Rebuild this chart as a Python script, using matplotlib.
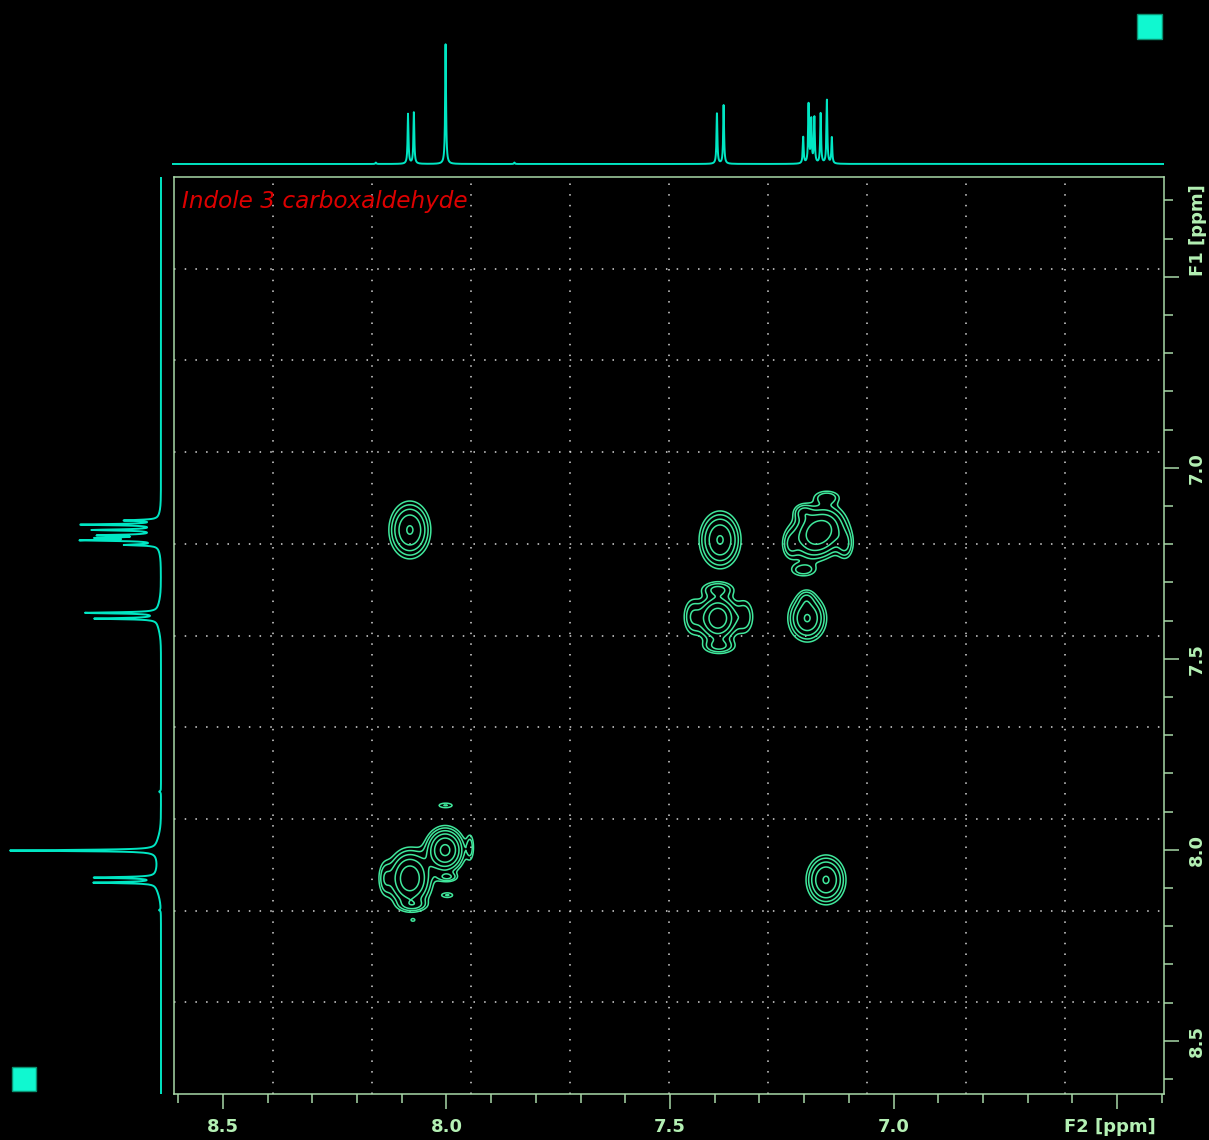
import numpy as np
import matplotlib
matplotlib.use("Agg")
import matplotlib.pyplot as plt
from matplotlib.patches import Rectangle
from matplotlib.ticker import FixedLocator

# ---------------- spectral window (ppm) ----------------
f2_left, f2_right = 8.6096, 6.3949      # direct dimension, high ppm on the left
f1_top, f1_bottom = 6.239, 8.6395       # indirect dimension, low ppm at the top

# ---------------- 1D proton spectrum (projection) ----------------
h_ppm = [8.158, 8.086, 8.073, 8.002, 7.848, 7.395, 7.380,
         7.202, 7.190, 7.184, 7.177, 7.163, 7.149, 7.138]
h_int = [0.012, 0.42, 0.43, 1.00, 0.012, 0.42, 0.49,
         0.22, 0.49, 0.36, 0.38, 0.42, 0.53, 0.22]

# broad feet seen under each multiplet in the F1 projection
foot_ppm = [8.08, 8.00, 7.39, 7.17]
foot_int = [0.035, 0.03, 0.025, 0.03]

# ---------------- 2D COSY peaks ----------------
# F2 ppm, F1 ppm, amplitude, F2 width, F1 width (ppm)
pk_f2 = [8.082, 7.151, 7.388,
         7.393, 7.393, 7.390, 7.450, 7.332,
         7.193, 7.195,
         7.183, 7.151, 7.202, 7.149, 7.202, 7.108, 7.231,
         8.082, 8.075, 8.138,
         8.003, 8.002, 7.947, 7.998, 7.998, 8.075]
pk_f1 = [7.163, 8.079, 7.189,
         7.394, 7.318, 7.468, 7.390, 7.390,
         7.394, 7.342,
         7.181, 7.158, 7.116, 7.077, 7.268, 7.202, 7.202,
         8.075, 8.145, 8.075,
         8.001, 7.884, 7.993, 8.072, 8.119, 8.184]
pk_amp = [6.0, 6.0, 6.0,
          8.0, 2.4, 2.4, 2.2, 2.0,
          6.0, 1.5,
          5.0, 5.0, 2.2, 2.0, 2.0, 2.3, 2.0,
          8.0, 2.0, 1.8,
          10.0, 1.6, 1.8, 2.2, 1.6, 1.2]
pk_sx = [0.0248, 0.0236, 0.0248,
         0.024, 0.024, 0.024, 0.014, 0.014,
         0.023, 0.012,
         0.028, 0.028, 0.014, 0.020, 0.020, 0.012, 0.012,
         0.026, 0.020, 0.010,
         0.022, 0.015, 0.006, 0.015, 0.012, 0.005]
pk_sy = [0.040, 0.0345, 0.040,
         0.032, 0.013, 0.013, 0.032, 0.032,
         0.033, 0.015,
         0.035, 0.035, 0.014, 0.012, 0.012, 0.025, 0.025,
         0.040, 0.010, 0.030,
         0.030, 0.006, 0.025, 0.008, 0.006, 0.004]
levels = [1.0, 1.55, 2.4, 3.72, 5.77, 8.94]

# ---------------- colours ----------------
bg = "black"
proj_col = "#00e6c3"
cont_col = "#40e89c"
frame_col = "#a8d8a8"
text_col = "#b4f0b4"
grid_col = "#d8d8d8"

W, H = 1209, 1140
fig = plt.figure(figsize=(W / 100, H / 100), dpi=100, facecolor=bg)


def px_rect(x0, y0, x1, y1):
    return [x0 / W, 1 - y1 / H, (x1 - x0) / W, (y1 - y0) / H]


# ---------------- main 2D panel ----------------
ax = fig.add_axes(px_rect(174, 177, 1164, 1094), facecolor=bg)
ax.set_xlim(f2_left, f2_right)
ax.set_ylim(f1_bottom, f1_top)

for k in range(1, 10):
    ax.plot([k / 10, k / 10], [0, 1], transform=ax.transAxes,
            color=grid_col, lw=1.1, ls=(0, (1, 6)), zorder=1)
    ax.plot([0, 1], [k / 10, k / 10], transform=ax.transAxes,
            color=grid_col, lw=1.1, ls=(0, (1, 6)), zorder=1)

x2 = np.linspace(f2_right, f2_left, 900)
y1 = np.linspace(f1_top, f1_bottom, 900)
X, Y = np.meshgrid(x2, y1)
Z = np.zeros_like(X)
for cx, cy, a, sx, sy in zip(pk_f2, pk_f1, pk_amp, pk_sx, pk_sy):
    Z += a * np.exp(-0.5 * (((X - cx) / sx) ** 2 + ((Y - cy) / sy) ** 2))
ax.contour(X, Y, Z, levels=levels, colors=cont_col, linewidths=1.1, zorder=3)

for s in ax.spines.values():
    s.set_color(frame_col)
    s.set_linewidth(1.1)

ax.xaxis.set_ticks_position("bottom")
ax.yaxis.tick_right()
ax.xaxis.set_major_locator(FixedLocator([8.5, 8.0, 7.5, 7.0, 6.5]))
ax.set_xticklabels(["8.5", "8.0", "7.5", "7.0", ""])
ax.xaxis.set_minor_locator(FixedLocator(np.round(np.arange(6.4, 8.65, 0.1), 1)))
ax.yaxis.set_major_locator(FixedLocator([6.5, 7.0, 7.5, 8.0, 8.5]))
ax.set_yticklabels(["", "7.0", "7.5", "8.0", "8.5"])
ax.yaxis.set_minor_locator(FixedLocator(np.round(np.arange(6.3, 8.65, 0.1), 1)))

lab_font = dict(family="DejaVu Sans", weight="bold", size=13)
ax.tick_params(which="both", direction="out", color=frame_col, width=1.1,
               labelcolor=text_col)
ax.tick_params(which="major", length=11, pad=6)
ax.tick_params(which="minor", length=6.5)
for t in ax.get_xticklabels():
    t.set_fontproperties(lab_font)
for t in ax.get_yticklabels():
    t.set_fontproperties(lab_font)
    t.set_rotation(90)
    t.set_va("center")

fig.text(1110 / W, 1 - 1127 / H, "F2 [ppm]", ha="center", va="center",
         color=text_col, **lab_font)
fig.text(1198 / W, 1 - 230 / H, "F1 [ppm]", ha="center", va="center",
         rotation=90, color=text_col, **lab_font)

ax.text((182 - 174) / 990, (1094 - 208) / 917, "Indole 3 carboxaldehyde",
        transform=ax.transAxes, ha="left", va="baseline", color="#dd0000",
        family="DejaVu Sans", style="italic", size=16.7, zorder=5)

# ---------------- top projection (F2) ----------------
axt = fig.add_axes(px_rect(172, 30, 1164, 170), facecolor="none")
axt.set_xlim(f2_left + 2 / 447, f2_right)
axt.set_ylim(-0.05, 1.1167)
axt.axis("off")
xs = np.linspace(f2_right, f2_left + 2 / 447, 8000)
top = np.zeros_like(xs)
hw = 0.0012
for p, i in zip(h_ppm, h_int):
    top += i / (1 + ((xs - p) / hw) ** 2)
axt.plot(xs, top, color=proj_col, lw=1.4)

# ---------------- left projection (F1) ----------------
axl = fig.add_axes(px_rect(0, 177, 165, 1094), facecolor="none")
axl.set_ylim(f1_bottom, f1_top)
axl.set_xlim(1.0662, -0.0265)
axl.axis("off")
ys = np.arange(f1_top, f1_bottom, 0.0008)
side = np.zeros_like(ys)
hw1 = 0.0018
for p, i in zip(h_ppm, h_int):
    side += i / (1 + ((ys - p) / hw1) ** 2)
side /= side.max()
for p, i in zip(foot_ppm, foot_int):
    side += i * np.exp(-0.5 * ((ys - p) / 0.03) ** 2)
side /= side.max()
axl.plot(side, ys, color=proj_col, lw=1.4)

# ---------------- corner markers ----------------
for (x0, y0, x1, y1_) in [(1137, 14, 1162, 39), (12, 1067, 36, 1091)]:
    r = px_rect(x0, y0, x1, y1_)
    fig.add_artist(Rectangle((r[0], r[1]), r[2], r[3], transform=fig.transFigure,
                             facecolor="#10f8d0", edgecolor="#0a9070", lw=1))

fig.savefig("out.png", dpi=100, facecolor=bg)
